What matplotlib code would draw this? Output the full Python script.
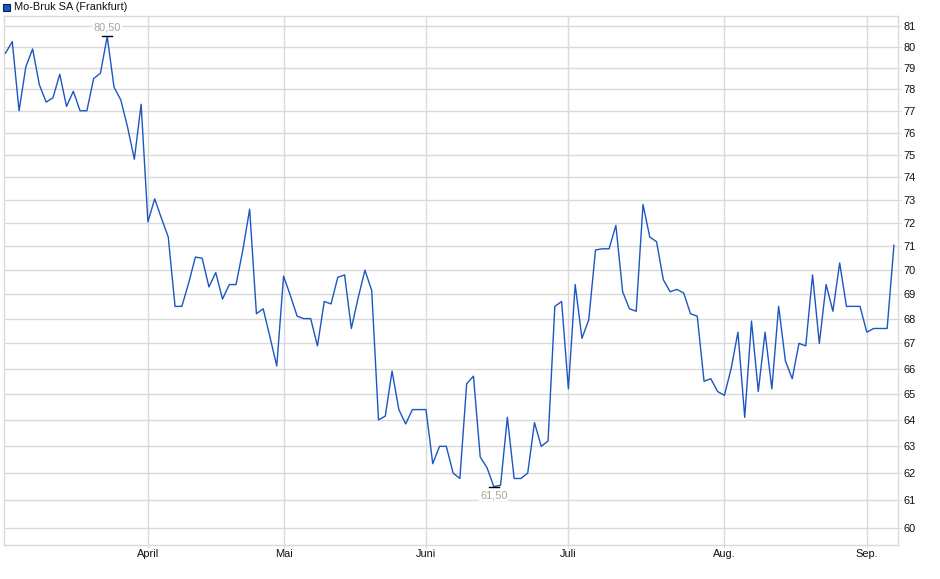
import numpy as np
import pandas as pd
import matplotlib
matplotlib.use("Agg")
import matplotlib.pyplot as plt
from matplotlib.patches import Rectangle
from matplotlib.ticker import FixedLocator, FixedFormatter, NullLocator

plt.rcParams['font.family'] = ['Liberation Sans', 'DejaVu Sans']

# trading days Frankfurt, 03.03.2025 - 05.09.2025
holidays = ['2025-04-18', '2025-04-21', '2025-05-01']
dates = pd.bdate_range('2025-03-03', '2025-09-05')
dates = dates[~dates.isin(pd.to_datetime(holidays))]

# closing prices
prices = [
    79.70, 80.25, 77.00, 79.05, 79.90, 78.20, 77.40, 77.60, 78.70, 77.20,
    77.90, 77.00, 77.00, 78.50, 78.75, 80.50, 78.10, 77.50, 76.25, 74.80,
    77.30, 72.05, 73.05, 72.20, 71.40, 68.50, 68.50, 69.45, 70.55, 70.50,
    69.30, 69.90, 68.80, 69.40, 69.40, 70.85, 72.60, 68.20, 68.40, 67.25,
    66.10, 69.75, 68.95, 68.10, 68.00, 68.00, 66.90, 68.70, 68.60, 69.70,
    69.80, 67.60, 68.85, 70.00, 69.15, 64.00, 64.15, 65.90, 64.40, 63.85,
    64.40, 64.40, 64.40, 62.35, 63.00, 63.00, 62.00, 61.80, 65.40, 65.70,
    62.60, 62.20, 61.50, 61.55, 64.10, 61.80, 61.80, 62.00, 63.90, 63.00,
    63.20, 68.50, 68.70, 65.20, 69.40, 67.20, 67.95, 70.85, 70.90, 70.90,
    71.90, 69.10, 68.40, 68.30, 72.80, 71.40, 71.20, 69.60, 69.10, 69.20,
    69.05, 68.20, 68.10, 65.50, 65.60, 65.10, 64.95, 66.00, 67.45, 64.10,
    67.90, 65.10, 67.45, 65.20, 68.50, 66.30, 65.60, 67.00, 66.90, 69.80,
    67.00, 69.40, 68.30, 70.30, 68.50, 68.50, 68.50, 67.45, 67.60, 67.60,
    67.60, 71.05,
]
month_names = {4: 'April', 5: 'Mai', 6: 'Juni', 7: 'Juli', 8: 'Aug.', 9: 'Sep.'}
y_ticks = list(range(60, 82))
legend_label = 'Mo-Bruk SA (Frankfurt)'

x = np.arange(len(prices))
y = np.array(prices)

fig = plt.figure(figsize=(9.4, 5.79), dpi=100)
ax = fig.add_axes([4 / 940, 1 - 545 / 579, 894 / 940, 529 / 579])

grid_c = '#dadada'
ax.plot(x, y, color='#1b57c2', lw=1.0, zorder=3)

ax.set_yscale('log')
ax.set_ylim(59.39, 81.49)
ax.set_xlim(-0.22, 131.6)

ax.yaxis.set_major_locator(FixedLocator(y_ticks))
ax.yaxis.set_major_formatter(FixedFormatter([str(t) for t in y_ticks]))
ax.yaxis.set_minor_locator(NullLocator())
ax.yaxis.tick_right()

# month ticks at first trading day of each month
mpos, mlab = [], []
for i in range(1, len(dates)):
    if dates[i].month != dates[i - 1].month:
        mpos.append(i)
        mlab.append(month_names[dates[i].month])
ax.set_xticks(mpos)
ax.set_xticklabels(mlab)

ax.grid(True, color=grid_c, lw=1.0, zorder=0)
for s in ax.spines.values():
    s.set_color(grid_c)
    s.set_linewidth(1.0)
ax.tick_params(axis='both', colors=grid_c, labelcolor='#111111', labelsize=7.9, length=2)
ax.tick_params(axis='y', pad=2)
ax.tick_params(axis='x', pad=1)

# high / low markers
imax = int(np.argmax(y))
imin = int(np.argmin(y))
ax.plot([imax - 0.75, imax + 0.75], [y[imax], y[imax]], color='black', lw=1.0, zorder=4)
ax.plot([imin - 0.75, imin + 0.75], [y[imin], y[imin]], color='black', lw=1.0, zorder=4)
ax.annotate(f'{y[imax]:.2f}'.replace('.', ','), (imax, y[imax]), xytext=(0, 3),
            textcoords='offset points', ha='center', va='bottom', fontsize=7.9,
            color='#aaa39a', zorder=5,
            bbox=dict(facecolor='white', edgecolor='none', pad=0.5))
ax.annotate(f'{y[imin]:.2f}'.replace('.', ','), (imin, y[imin]), xytext=(0, -3),
            textcoords='offset points', ha='center', va='top', fontsize=7.9,
            color='#aaa39a', zorder=5,
            bbox=dict(facecolor='white', edgecolor='none', pad=0.5))

# legend
fig.patches.append(Rectangle((3 / 940, 1 - 11 / 579), 7 / 940, 7 / 579,
                             transform=fig.transFigure, facecolor='#1b57c2',
                             edgecolor='#0a1f55', lw=0.8))
fig.text(14 / 940, 1 - 7 / 579, legend_label, ha='left', va='center',
         fontsize=7.9, color='#111111')

fig.savefig('out.png', dpi=100)
